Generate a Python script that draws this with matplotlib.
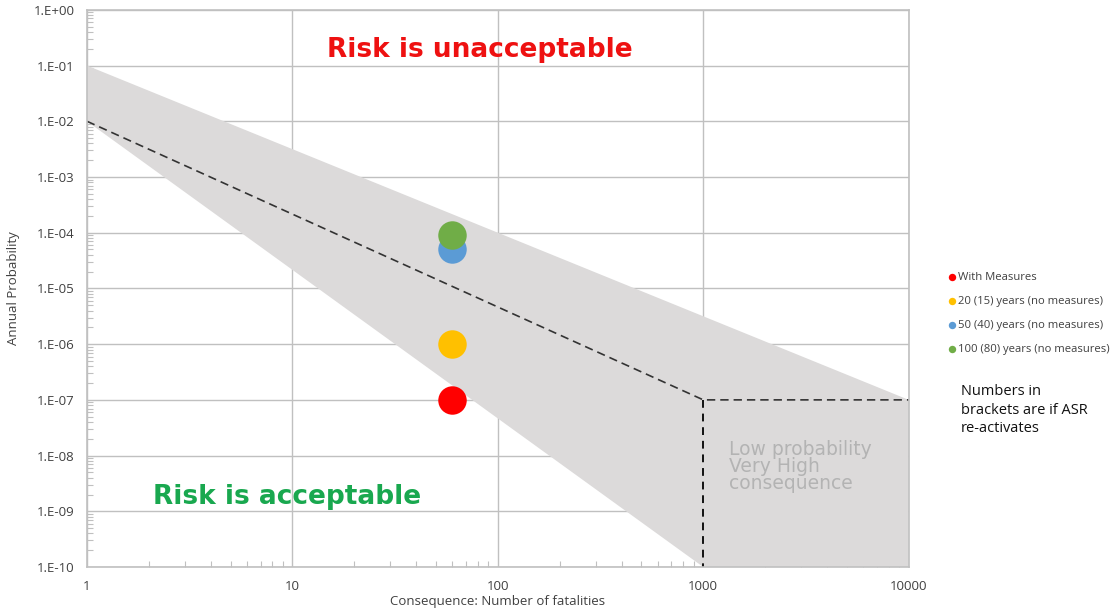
import numpy as np
import matplotlib.pyplot as plt
from matplotlib.ticker import FixedLocator, LogLocator, NullFormatter

# scenario points (fatalities, annual probability)
scenarios = ["With Measures", "20 (15) years (no measures)",
             "50 (40) years (no measures)", "100 (80) years (no measures)"]
fatalities = [60, 60, 60, 60]
probabilities = [1e-7, 1e-6, 5e-5, 9e-5]
colors = ["#ff0000", "#ffc000", "#5b9bd5", "#70ad47"]

# tolerability band and ALARP line
band_x = [1, 10000, 10000, 1000, 1]
band_y = [1e-1, 1e-7, 1e-10, 1e-10, 1e-2]
line_x = [1, 1000, 10000]
line_y = [1e-2, 1e-7, 1e-7]
vert_x = [1000, 1000]
vert_y = [1e-7, 1e-10]

x_ticks = [1, 10, 100, 1000, 10000]
x_labels = ["1", "10", "100", "1000", "10000"]
y_ticks = [10.0 ** k for k in range(0, -11, -1)]
y_labels = ["1.E+00"] + ["1.E-%02d" % k for k in range(1, 11)]

plt.rcParams['font.family'] = ['Open Sans', 'DejaVu Sans']
fig = plt.figure(figsize=(11.15, 6.15), dpi=100)
ax = fig.add_axes([0.078, 0.078, 0.737, 0.906])

ax.fill(band_x, band_y, color="#dcdada", lw=0, zorder=1)
ax.plot(line_x, line_y, color="#333333", lw=1.2, ls=(0, (5, 3)), zorder=2)
ax.plot(vert_x, vert_y, color="#111111", lw=1.4, ls=(0, (4, 3)), zorder=2)

for x, y, c, lab in zip(fatalities, probabilities, colors, scenarios):
    ax.scatter([x], [y], s=420, color=c, lw=0, zorder=5, label=lab)

ax.set_xscale("log")
ax.set_yscale("log")
ax.set_xlim(1, 10000)
ax.set_ylim(1e-10, 1)
ax.xaxis.set_major_locator(FixedLocator(x_ticks))
ax.set_xticklabels(x_labels)
ax.yaxis.set_major_locator(FixedLocator(y_ticks))
ax.set_yticklabels(y_labels)
ax.xaxis.set_minor_locator(LogLocator(base=10, subs=np.arange(2, 10), numticks=20))
ax.yaxis.set_minor_locator(LogLocator(base=10, subs=np.arange(2, 10), numticks=20))
ax.xaxis.set_minor_formatter(NullFormatter())
ax.yaxis.set_minor_formatter(NullFormatter())
ax.tick_params(which="major", length=0, labelsize=9.5, labelcolor="#404040", pad=9)
ax.tick_params(which="minor", direction="in", length=4, color="#c0c0c0", width=0.8)
ax.grid(True, which="major", color="#c0c0c0", lw=1, zorder=0)
ax.set_axisbelow(True)
for s in ax.spines.values():
    s.set_color("#c0c0c0")
    s.set_linewidth(1.2)

ax.set_xlabel("Consequence: Number of fatalities", fontsize=9.5, color="#404040", labelpad=2)
ax.set_ylabel("Annual Probability", fontsize=9.5, color="#404040", labelpad=10)

ax.text(0.478, 0.928, "Risk is unacceptable", transform=ax.transAxes, ha="center", va="center",
        fontsize=19, fontweight="heavy", color="#ee1111", family="DejaVu Sans")
ax.text(0.243, 0.125, "Risk is acceptable", transform=ax.transAxes, ha="center", va="center",
        fontsize=19, fontweight="heavy", color="#19a84f", family="DejaVu Sans")
ax.text(1330, 6.3e-9, "Low probability\nVery High\nconsequence", ha="left", va="center",
        fontsize=13.5, color="#b3b3b3", linespacing=0.88, family="DejaVu Sans")

leg = fig.legend(loc="upper left", bbox_to_anchor=(0.845, 0.565), frameon=False,
                 fontsize=8.1, handletextpad=0.0, labelspacing=1.15, markerscale=0.26,
                 handlelength=1.0, borderaxespad=0)
for t in leg.get_texts():
    t.set_color("#404040")

fig.text(0.862, 0.375, "Numbers in\nbrackets are if ASR\nre-activates", fontsize=10.5,
         color="#111111", va="top", ha="left", linespacing=1.3)

fig.savefig("out.png", dpi=100)
